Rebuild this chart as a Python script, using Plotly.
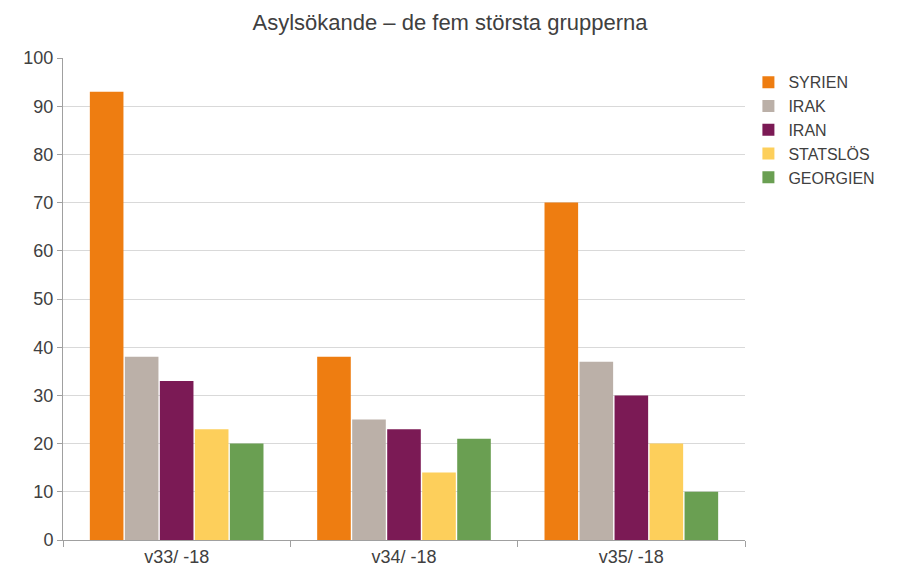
import plotly.graph_objects as go

categories = ["v33/ -18", "v34/ -18", "v35/ -18"]
series = ["SYRIEN", "IRAK", "IRAN", "STATSLÖS", "GEORGIEN"]
syrien = [93, 38, 70]
irak = [38, 25, 37]
iran = [33, 23, 30]
statslos = [23, 14, 20]
georgien = [20, 21, 10]
colors = ["#EE7D11", "#BBB0A8", "#7B1A55", "#FDCF5B", "#6A9F52"]

fig = go.Figure()
for name, vals, c in zip(series, [syrien, irak, iran, statslos, georgien], colors):
    fig.add_bar(x=categories, y=vals, name=name, marker_color=c, marker_line_width=0)

fig.update_layout(
    width=884, height=570,
    paper_bgcolor="white", plot_bgcolor="white",
    title=dict(text="Asylsökande – de fem största grupperna", x=0.5, xanchor="center",
               y=0.975, yanchor="middle",
               font=dict(family="Liberation Sans, Arial", size=22, color="#404040")),
    margin=dict(l=55, r=147, t=50, b=38),
    barmode="group", bargap=0.23, bargroupgap=0.04,
    font=dict(family="Liberation Sans, Arial", size=18, color="#404040"),
    legend=dict(x=1.005, y=0.985, yanchor="top", font=dict(size=16), itemwidth=30, tracegroupgap=2),
    yaxis=dict(range=[0, 100], dtick=10, gridcolor="#D9D9D9", showline=True, linecolor="#A0A0A0",
               ticks="outside", tickcolor="#A0A0A0", ticklen=5),
    xaxis=dict(showline=True, linecolor="#A0A0A0", ticks="outside", tickcolor="#A0A0A0",
               tickson="boundaries", ticklen=6),
)
fig.write_html("out.html")
